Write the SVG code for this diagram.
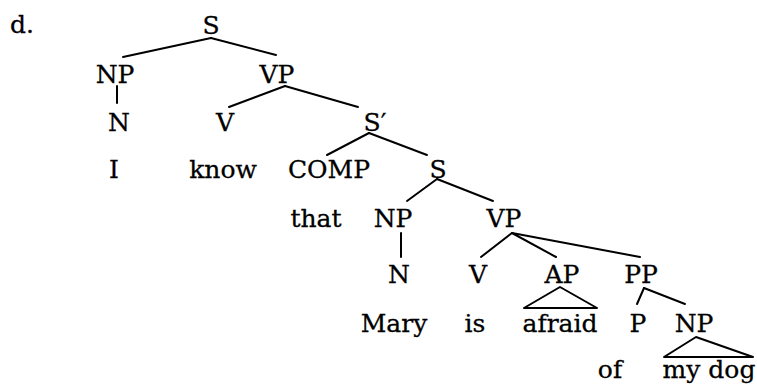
<svg xmlns="http://www.w3.org/2000/svg" width="757" height="388" viewBox="0 0 757 388">
<style>
text{font-family:"DejaVu Serif","Liberation Serif",serif;font-size:25px;fill:#000;stroke:#000;stroke-width:0.3;text-anchor:middle}
.e{stroke:#000;stroke-width:2;fill:none;stroke-linecap:round;stroke-linejoin:round}
</style>
<rect width="757" height="388" fill="#fff"/>
<text x="22" y="33">d.</text>
<g id="connectors">
<line class="e" x1="211" y1="38" x2="123" y2="57"/>
<line class="e" x1="211" y1="38" x2="276" y2="55"/>
<line class="e" x1="117" y1="86" x2="117" y2="103"/>
<line class="e" x1="285" y1="86" x2="229" y2="107"/>
<line class="e" x1="285" y1="86" x2="358" y2="107"/>
<line class="e" x1="369" y1="133" x2="327" y2="155"/>
<line class="e" x1="369" y1="133" x2="427" y2="155"/>
<line class="e" x1="437" y1="179" x2="407" y2="201"/>
<line class="e" x1="437" y1="179" x2="493" y2="201"/>
<line class="e" x1="401" y1="233" x2="401" y2="257"/>
<line class="e" x1="512" y1="233" x2="481" y2="257"/>
<line class="e" x1="512" y1="233" x2="556" y2="257"/>
<line class="e" x1="512" y1="233" x2="640" y2="257"/>
<polygon class="e" points="560,287 524,308 597,308"/>
<line class="e" x1="644" y1="288" x2="637" y2="304"/>
<line class="e" x1="644" y1="288" x2="685" y2="304"/>
<polygon class="e" points="696,337 664,357 753,357"/>
</g>
<g id="S"><text x="211" y="34">S</text></g>
<g id="NP1"><text x="115" y="83">NP</text></g>
<g id="VP1"><text x="277" y="83">VP</text></g>
<g id="N1"><text x="119" y="131">N</text></g>
<g id="V1"><text x="225" y="131">V</text></g>
<g id="Sbar"><text x="375" y="131">S′</text></g>
<g id="I"><text x="114" y="178">I</text></g>
<g id="know"><text x="223" y="178">know</text></g>
<g id="COMP"><text x="329" y="178">COMP</text></g>
<g id="S2"><text x="438" y="178">S</text></g>
<g id="that"><text x="316" y="227">that</text></g>
<g id="NP2"><text x="393" y="227">NP</text></g>
<g id="VP2"><text x="504" y="227">VP</text></g>
<g id="N2"><text x="399" y="283">N</text></g>
<g id="V2"><text x="478" y="283">V</text></g>
<g id="AP"><text x="562" y="283">AP</text></g>
<g id="PP"><text x="641" y="283">PP</text></g>
<g id="Mary"><text x="394" y="332">Mary</text></g>
<g id="is"><text x="475" y="332">is</text></g>
<g id="afraid"><text x="560" y="332">afraid</text></g>
<g id="P"><text x="638" y="332">P</text></g>
<g id="NP3"><text x="694" y="332">NP</text></g>
<g id="of"><text x="610" y="378">of</text></g>
<g id="mydog"><text x="709" y="378">my dog</text></g>
</svg>
